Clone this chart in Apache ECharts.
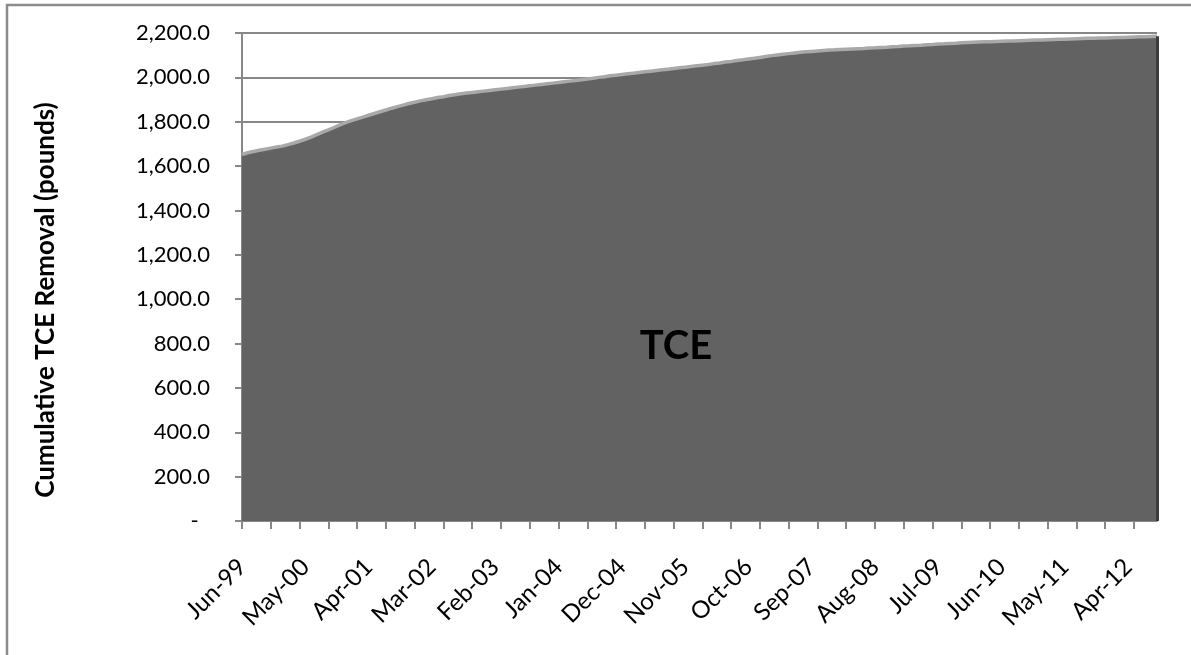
<!DOCTYPE html>
<html>
<head>
<meta charset="utf-8">
<title>Cumulative TCE Removal</title>
<script src="https://cdn.jsdelivr.net/npm/echarts@6/dist/echarts.min.js"></script>
<style>
  html, body { margin: 0; padding: 0; background: #ffffff; }
  #chart { width: 1191px; height: 655px; }
</style>
</head>
<body>
<div id="chart"></div>
<script>
// Monthly categories, Jun-99 through Sep-12
const MONTH_NAMES = ['Jan','Feb','Mar','Apr','May','Jun','Jul','Aug','Sep','Oct','Nov','Dec'];
const START_YEAR = 1999, START_MONTH = 5, MONTH_COUNT = 160;
const categories = [];
for (let i = 0; i < MONTH_COUNT; i++) {
  const m = (START_MONTH + i) % 12;
  const y = START_YEAR + Math.floor((START_MONTH + i) / 12);
  categories.push(MONTH_NAMES[m] + '-' + String(y % 100).padStart(2, '0'));
}

// Cumulative TCE removed (pounds), one value per month
const tceCumulative = [
  1652, 1660, 1666, 1671, 1676, 1681, 1686, 1690, 1697, 1704,
  1712, 1721, 1731, 1742, 1753, 1763, 1774, 1786, 1796, 1805,
  1813, 1821, 1829, 1837, 1845, 1853, 1861, 1868, 1875, 1882,
  1888, 1894, 1899, 1904, 1909, 1913, 1918, 1922, 1926, 1929,
  1932, 1935, 1938, 1941, 1944, 1947, 1950, 1953, 1956, 1959,
  1962, 1965, 1968, 1971, 1974, 1977, 1980, 1983, 1986, 1989,
  1993, 1996, 2000, 2003, 2007, 2010, 2013, 2016, 2019, 2022,
  2025, 2028, 2031, 2034, 2037, 2040, 2043, 2046, 2049, 2052,
  2055, 2058, 2062, 2065, 2069, 2072, 2076, 2079, 2083, 2086,
  2090, 2094, 2098, 2101, 2104, 2107, 2110, 2113, 2115, 2117,
  2119, 2121, 2123, 2124, 2126, 2127, 2128, 2129, 2130, 2132,
  2133, 2135, 2136, 2138, 2139, 2141, 2142, 2144, 2145, 2147,
  2148, 2150, 2151, 2153, 2154, 2156, 2157, 2158, 2159, 2160,
  2161, 2162, 2163, 2164, 2164, 2165, 2166, 2167, 2168, 2169,
  2170, 2171, 2172, 2172, 2173, 2174, 2175, 2176, 2176, 2177,
  2178, 2179, 2180, 2180, 2181, 2182, 2183, 2183, 2184, 2185
];

// Value axis ticks
const yMin = 0, yMax = 2200, yStep = 200;
const yTitle = 'Cumulative TCE Removal (pounds)';
const seriesName = 'TCE';
const xLabelEvery = 11;  // one label per 11 months
const xTickEvery = 5;    // one tick mark per 5 months

const FONT = 'Lato, "Open Sans", sans-serif';
const GRID_GRAY = '#878787';

function formatPounds(v) {
  if (v === 0) return '-  ';
  return v.toLocaleString('en-US', { minimumFractionDigits: 1, maximumFractionDigits: 1 });
}

const lastIndex = tceCumulative.length - 1;

const chart = echarts.init(document.getElementById('chart'), null, { renderer: 'canvas' });

chart.setOption({
  animation: false,
  backgroundColor: '#ffffff',
  grid: { left: 242, right: 34, top: 33, bottom: 134, containLabel: false },
  graphic: [
    {
      type: 'rect',
      shape: { x: 7, y: 5, width: 1220, height: 700 },
      style: { fill: 'none', stroke: '#8c8c8c', lineWidth: 2.5 },
      silent: true, z: -1
    },
    {
      // series name printed inside the area
      type: 'text',
      x: 676, y: 346,
      style: {
        text: seriesName, font: 'bold 40px ' + FONT, fill: '#000000',
        align: 'center', verticalAlign: 'middle'
      },
      z: 10
    },
    {
      // value axis title
      type: 'text',
      x: 46, y: 300,
      rotation: Math.PI / 2,
      style: {
        text: yTitle, font: 'bold 26px ' + FONT, fill: '#000000',
        align: 'center', verticalAlign: 'middle'
      },
      z: 10
    }
  ],
  xAxis: {
    type: 'category',
    data: categories,
    boundaryGap: false,
    axisLine: { show: true, lineStyle: { color: GRID_GRAY, width: 2 } },
    axisTick: {
      show: true, inside: false, length: 8,
      interval: xTickEvery - 1,
      lineStyle: { color: GRID_GRAY, width: 2 }
    },
    axisLabel: {
      interval: xLabelEvery - 1,
      rotate: 45,
      margin: 42,
      color: '#000000',
      fontFamily: FONT,
      fontSize: 24
    },
    splitLine: { show: false }
  },
  yAxis: {
    type: 'value',
    min: yMin, max: yMax, interval: yStep,
    axisLine: { show: true, lineStyle: { color: GRID_GRAY, width: 2 } },
    axisTick: { show: true, inside: false, length: 7, lineStyle: { color: GRID_GRAY, width: 2 } },
    axisLabel: {
      formatter: formatPounds,
      margin: 32,
      color: '#000000',
      fontFamily: FONT,
      fontSize: 22
    },
    splitLine: { show: true, lineStyle: { color: GRID_GRAY, width: 2 } }
  },
  series: [{
    name: seriesName,
    type: 'line',
    data: tceCumulative,
    showSymbol: false,
    smooth: false,
    lineStyle: { color: '#a9a9a9', width: 3.5 },
    areaStyle: { color: '#626262', opacity: 1 },
    z: 3,
    markLine: {
      // darker bevel on the closing edge of the area
      silent: true,
      symbol: 'none',
      label: { show: false },
      lineStyle: { color: '#3c3c3c', width: 3, type: 'solid' },
      data: [[
        { coord: [lastIndex, 0] },
        { coord: [lastIndex, tceCumulative[lastIndex]] }
      ]]
    }
  }]
});
</script>
</body>
</html>
